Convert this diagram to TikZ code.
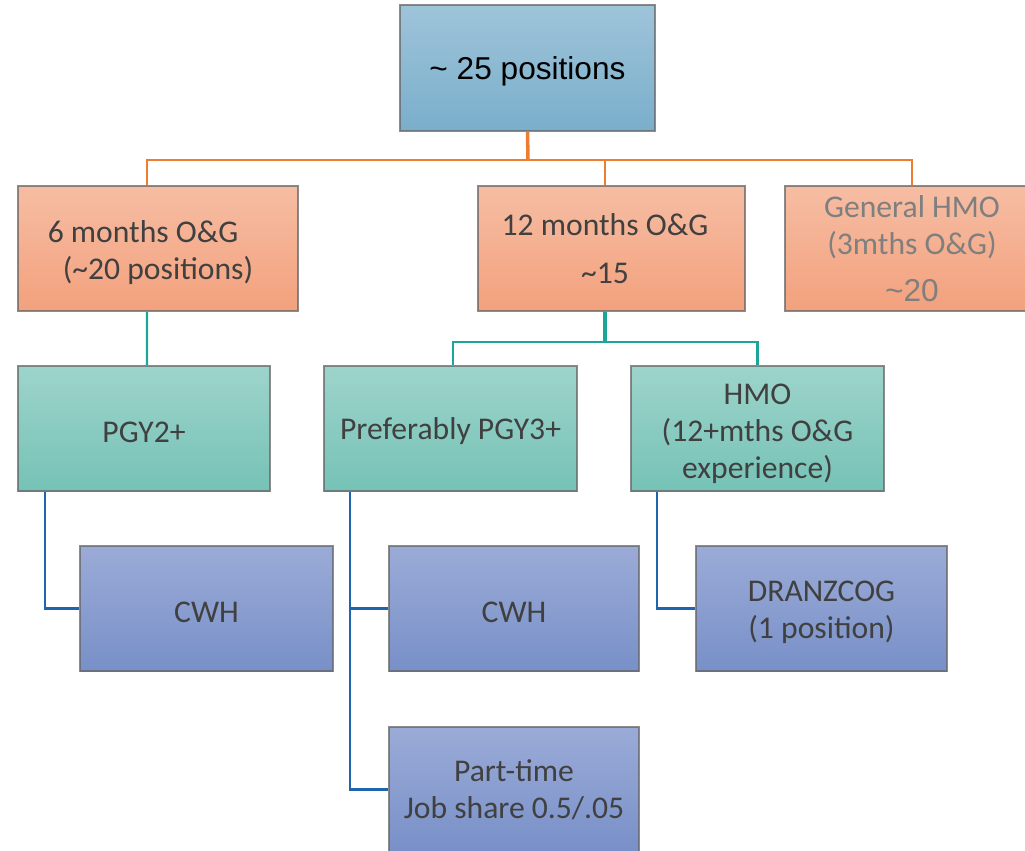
\documentclass[tikz,border=0pt]{standalone}
\usepackage{fontspec}
\setmainfont{Carlito}
\newfontfamily\arialfont{Liberation Sans}
\definecolor{txt}{HTML}{404040}
\definecolor{gtxt}{HTML}{7F7F7F}
\definecolor{btop}{HTML}{9EC4D9}
\definecolor{bbot}{HTML}{7AAECB}
\definecolor{otop}{HTML}{F6BDA3}
\definecolor{obot}{HTML}{F3A17D}
\definecolor{ttop}{HTML}{9DD4CB}
\definecolor{tbot}{HTML}{76C2B6}
\definecolor{ptop}{HTML}{9BABD7}
\definecolor{pbot}{HTML}{7890C8}
\definecolor{oline}{HTML}{ED7D31}
\definecolor{tline}{HTML}{1EA59A}
\definecolor{pline}{HTML}{1F64AF}
\begin{document}
\begin{tikzpicture}[x=0.02cm,y=-0.02cm,
  box/.style={draw=black!60, draw opacity=0.75, line width=0.7pt, minimum height=2.5cm,
    align=center, text=txt, font=\fontsize{18}{21}\selectfont, inner sep=2pt,
    execute at begin node={\rule{0pt}{15.5pt}}},
  topbox/.style={box, top color=btop, bottom color=bbot, text=black,
    font=\arialfont\fontsize{18}{21}\selectfont,
    execute at begin node={\rule{0pt}{17pt}}},
  obox/.style={box, top color=otop, bottom color=obot},
  tbox/.style={box, top color=ttop, bottom color=tbot},
  pbox/.style={box, top color=ptop, bottom color=pbot},
  ocon/.style={draw=oline, line width=1.3pt},
  tcon/.style={draw=tline, line width=1.3pt},
  pcon/.style={draw=pline, line width=1.3pt}]
\useasboundingbox (0,0) rectangle (1025,850);
\clip (0,0) rectangle (1025,850);

\node[topbox, minimum width=5.1cm, minimum height=2.52cm] (top) at (527.5,68) {\textasciitilde{} 25 positions};

\node[obox, minimum width=5.6cm] (six) at (158,248.5) {\rule{0pt}{17.5pt}6 months O\&G\hspace*{17pt}\\(\textasciitilde20 positions)};
\node[obox, minimum width=5.34cm] (twelve) at (611.5,248.5) {12 months O\&G\hspace*{7.4pt}\\[6pt]\textasciitilde15\hspace*{7.4pt}};
\node[obox, minimum width=5.08cm, text=gtxt] (gen) at (912,248.5) {General HMO\\(3mths O\&G)\\[6pt]{\arialfont\textasciitilde20}};

\node[tbox, minimum width=5.04cm] (pgy2) at (144,428.5) {PGY2+};
\node[tbox, minimum width=5.06cm] (pref) at (450.5,428.5) {Preferably PGY3+};
\node[tbox, minimum width=5.06cm] (hmo) at (757.5,428.5) {\rule{0pt}{17.3pt}HMO\\(12+mths O\&G\\experience)};

\node[pbox, minimum width=5.06cm] (cwha) at (206.5,608.5) {CWH};
\node[pbox, minimum width=5.0cm] (cwhb) at (514,608.5) {CWH};
\node[pbox, minimum width=5.02cm] (dran) at (821.5,608.5) {\rule{0pt}{16.2pt}DRANZCOG\\(1 position)};
\node[pbox, minimum width=5.0cm] (part) at (514,789.5) {Part-time\\Job share 0.5/.05};

% orange connectors
\coordinate (ob) at (528,160);
\draw[ocon, line width=2pt] (top.south) -- (ob);
\draw[ocon] ([xshift=-0.22cm]six.north) |- (ob) -| (gen.north);
\draw[ocon] (ob) -| ([xshift=-0.13cm]twelve.north);

% teal connectors
\coordinate (tb) at (605,342);
\draw[tcon] ([xshift=-0.22cm]six.south) -- ([xshift=0.06cm]pgy2.north);
\draw[tcon, line width=2pt] ([xshift=-0.13cm]twelve.south) -- (tb);
\draw[tcon] ([xshift=0.05cm]pref.north) |- (tb) -| (hmo.north);

% blue connectors
\draw[pcon] (pgy2.south -| 45,0) |- (cwha.west);
\draw[pcon] (pref.south -| 350,0) |- (part.west);
\draw[pcon] (cwhb.west -| 350,0) -- (cwhb.west);
\draw[pcon] (hmo.south -| 657,0) |- (dran.west);
\end{tikzpicture}
\end{document}
